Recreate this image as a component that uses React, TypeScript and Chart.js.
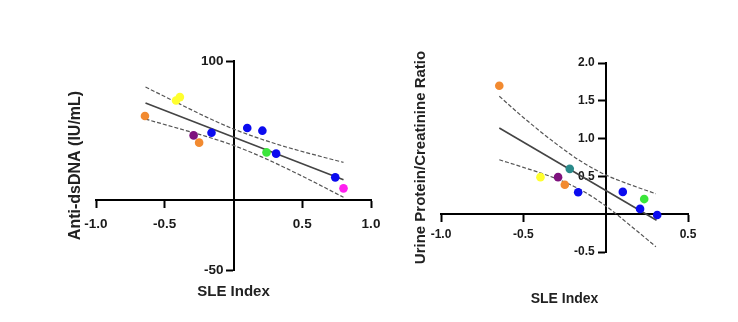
import React, { useEffect, useRef } from 'react';
import { Chart, registerables } from 'chart.js';
Chart.register(...registerables);

// ---- Left panel: Anti-dsDNA vs SLE Index ----
const dnaSle = [-0.644, -0.418, -0.39, -0.29, -0.25, -0.16, 0.10, 0.21, 0.24, 0.31, 0.74, 0.80];
const dnaValue = [60.5, 71.7, 74.1, 46.6, 41.4, 48.5, 51.9, 50.0, 34.4, 33.5, 16.5, 8.6];
const dnaGroup = ['orange', 'yellow', 'yellow', 'purple', 'orange', 'blue', 'blue', 'blue', 'green', 'blue', 'blue', 'magenta'];
const dnaFitSle = [-0.64, 0.80];
const dnaFitValue = [69.8, 14.7];
const dnaBandSle = [-0.64, -0.4, -0.2, 0, 0.2, 0.4, 0.6, 0.8];
const dnaUpper = [81.3, 69.6, 59.9, 51.2, 44.0, 37.8, 32.4, 27.2];
const dnaLower = [58.3, 51.6, 45.9, 39.4, 31.4, 22.2, 12.4, 2.2];
const dnaXTicks = [-1, -0.5, 0.5, 1];
const dnaYTicks = [-50, 100];

// ---- Right panel: Urine Protein/Creatinine Ratio vs SLE Index ----
const upcSle = [-0.646, -0.396, -0.289, -0.218, -0.248, -0.167, 0.104, 0.209, 0.234, 0.313];
const upcValue = [1.70, 0.49, 0.49, 0.60, 0.39, 0.29, 0.295, 0.07, 0.20, -0.01];
const upcGroup = ['orange', 'yellow', 'purple', 'teal', 'orange', 'blue', 'blue', 'blue', 'green', 'blue'];
const upcFitSle = [-0.646, 0.309];
const upcFitValue = [1.14, -0.08];
const upcBandSle = [-0.646, -0.5, -0.3, -0.15, 0, 0.15, 0.305];
const upcUpper = [1.56, 1.28, 0.93, 0.70, 0.52, 0.39, 0.27];
const upcLower = [0.72, 0.62, 0.47, 0.32, 0.11, -0.15, -0.43];
const upcXTicks = [-1, -0.5, 0.5];
const upcYTicks = [-0.5, 0.5, 1.0, 1.5, 2.0];

const palette: Record<string, string> = {
  orange: '#F28A30',
  yellow: '#FFFF2E',
  purple: '#7E127E',
  blue: '#0B0BEF',
  green: '#3BE63B',
  magenta: '#FF1FEF',
  teal: '#2A8A8A',
};

const FONT = "'Liberation Sans', Arial, Helvetica, sans-serif";

const zip = (xs: number[], ys: number[]) => xs.map((x, i) => ({ x, y: ys[i] }));

const titlesPlugin = {
  id: 'axisTitles',
  beforeDraw(chart: any, _args: any, opts: any) {
    // move y tick labels left of the tick marks (centred axis draws them at the line)
    const ys = chart.scales.y;
    const items = ys.getLabelItems();
    if (!(items as any).__shifted) {
      items.forEach((it: any) => {
        const t = it.options.translation;
        it.options.translation = [t[0] - opts.yLabelShift, t[1]];
      });
      (items as any).__shifted = true;
    }
  },
  afterDraw(chart: any, _args: any, opts: any) {
    const { ctx, chartArea } = chart;
    ctx.save();
    ctx.fillStyle = '#222';
    ctx.textAlign = 'center';
    ctx.textBaseline = 'middle';
    ctx.font = `bold ${opts.xSize}px ${FONT}`;
    ctx.fillText(opts.xTitle, (chartArea.left + chartArea.right) / 2, chartArea.bottom + opts.xOffset);
    ctx.translate(chartArea.left - opts.yOffset, (chartArea.top + chartArea.bottom) / 2);
    ctx.rotate(-Math.PI / 2);
    ctx.font = `bold ${opts.ySize}px ${FONT}`;
    ctx.fillText(opts.yTitle, 0, 0);
    ctx.restore();
  },
};

type PanelProps = {
  width: number;
  height: number;
  left: number;
  xs: number[];
  ys: number[];
  groups: string[];
  fitX: number[];
  fitY: number[];
  bandX: number[];
  upper: number[];
  lower: number[];
  xMin: number;
  xMax: number;
  yMin: number;
  yMax: number;
  xTicks: number[];
  yTicks: number[];
  yFmt: (v: number) => string;
  tickSize: number;
  xPad: number;
  padding: { left: number; right: number; top: number; bottom: number };
  titles: any;
};

function Panel(p: PanelProps) {
  const ref = useRef<HTMLCanvasElement>(null);
  useEffect(() => {
    if (!ref.current) return;
    const tickFont = { family: FONT, size: p.tickSize, weight: 'bold' as const };
    const chart = new Chart(ref.current, {
      type: 'scatter',
      data: {
        datasets: [
          {
            label: 'points',
            data: zip(p.xs, p.ys),
            pointBackgroundColor: p.groups.map((g) => palette[g]),
            pointBorderColor: p.groups.map((g) => palette[g]),
            pointRadius: 4.3,
            pointBorderWidth: 0,
            showLine: false,
          },
          {
            label: 'fit',
            data: zip(p.fitX, p.fitY),
            showLine: true,
            borderColor: '#444',
            borderWidth: 1.6,
            pointRadius: 0,
          },
          {
            label: 'upper',
            data: zip(p.bandX, p.upper),
            showLine: true,
            borderColor: '#555',
            borderWidth: 1.2,
            borderDash: [4, 2],
            pointRadius: 0,
            cubicInterpolationMode: 'monotone',
          },
          {
            label: 'lower',
            data: zip(p.bandX, p.lower),
            showLine: true,
            borderColor: '#555',
            borderWidth: 1.2,
            borderDash: [4, 2],
            pointRadius: 0,
            cubicInterpolationMode: 'monotone',
          },
        ],
      },
      options: {
        responsive: false,
        animation: false,
        layout: { padding: p.padding },
        plugins: {
          legend: { display: false },
          tooltip: { enabled: false },
          axisTitles: p.titles,
        } as any,
        scales: {
          x: {
            type: 'linear',
            position: { y: 0 } as any,
            min: p.xMin,
            max: p.xMax,
            afterBuildTicks: (s: any) => {
              s.ticks = p.xTicks.map((v) => ({ value: v }));
            },
            ticks: {
              color: '#1a1a1a',
              font: tickFont,
              padding: p.xPad,
              autoSkip: false,
              maxRotation: 0,
              callback: (v: any) => Number(v).toFixed(1),
            },
            grid: { drawOnChartArea: false, drawTicks: true, tickLength: 7, tickWidth: 2, color: '#000' },
            border: { display: true, color: '#000', width: 2 },
          },
          y: {
            type: 'linear',
            position: { x: 0 } as any,
            min: p.yMin,
            max: p.yMax,
            afterBuildTicks: (s: any) => {
              s.ticks = p.yTicks.map((v) => ({ value: v }));
            },
            ticks: {
              color: '#1a1a1a',
              font: tickFont,
              padding: 2,
              autoSkip: false,
              callback: (v: any) => p.yFmt(Number(v)),
            },
            grid: { drawOnChartArea: false, drawTicks: true, tickLength: 7, tickWidth: 2, color: '#000' },
            border: { display: true, color: '#000', width: 2 },
          },
        },
      },
      plugins: [titlesPlugin],
    } as any);
    return () => chart.destroy();
  }, []);
  return (
    <canvas
      ref={ref}
      width={p.width}
      height={p.height}
      style={{ position: 'absolute', left: p.left, top: 0, width: p.width, height: p.height }}
    />
  );
}

export default function App() {
  return (
    <div style={{ position: 'relative', width: 722, height: 306, background: '#fff' }}>
      <Panel
        width={390}
        height={306}
        left={0}
        xs={dnaSle}
        ys={dnaValue}
        groups={dnaGroup}
        fitX={dnaFitSle}
        fitY={dnaFitValue}
        bandX={dnaBandSle}
        upper={dnaUpper}
        lower={dnaLower}
        xMin={-1}
        xMax={1}
        yMin={-50}
        yMax={100}
        xTicks={dnaXTicks}
        yTicks={dnaYTicks}
        yFmt={(v) => String(v)}
        tickSize={13.5}
        xPad={9}
        padding={{ left: 88, right: 27, top: 53, bottom: 44 }}
        titles={{ xTitle: 'SLE Index', yTitle: 'Anti-dsDNA (IU/mL)', xSize: 15, ySize: 16, xOffset: 22, yOffset: 20, yLabelShift: 10 }}
      />
      <Panel
        width={332}
        height={306}
        left={390}
        xs={upcSle}
        ys={upcValue}
        groups={upcGroup}
        fitX={upcFitSle}
        fitY={upcFitValue}
        bandX={upcBandSle}
        upper={upcUpper}
        lower={upcLower}
        xMin={-1}
        xMax={0.5}
        yMin={-0.5}
        yMax={2}
        xTicks={upcXTicks}
        yTicks={upcYTicks}
        yFmt={(v) => v.toFixed(1)}
        tickSize={12}
        xPad={6}
        padding={{ left: 43, right: 42, top: 55, bottom: 62 }}
        titles={{ xTitle: 'SLE Index', yTitle: 'Urine Protein/Creatinine Ratio', xSize: 14, ySize: 15, xOffset: 47, yOffset: 20, yLabelShift: 11 }}
      />
    </div>
  );
}
